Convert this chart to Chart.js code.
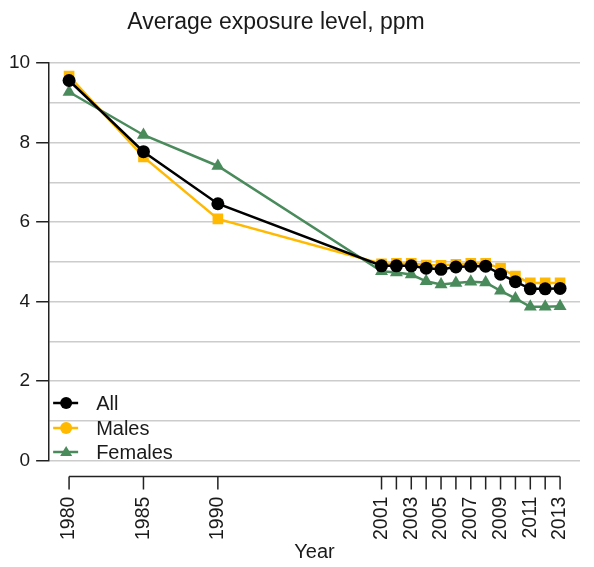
<!DOCTYPE html>
<html>
<head>
<meta charset="utf-8">
<script src="https://cdn.jsdelivr.net/npm/chart.js@4"></script>
<style>
  html, body { margin: 0; padding: 0; background: #fff; }
  #wrap { width: 594px; height: 567px; }
</style>
</head>
<body>
<div id="wrap"><canvas id="chart" width="594" height="567"></canvas></div>
<script>
// Years on the x axis (linear spacing, gap between 1990 and 2001)
const years = [1980, 1985, 1990, 2001, 2002, 2003, 2004, 2005, 2006, 2007, 2008, 2009, 2010, 2011, 2012, 2013];
// Years that get a printed label
const labelledYears = [1980, 1985, 1990, 2001, 2003, 2005, 2007, 2009, 2011, 2013];

// Average exposure level, ppm
const allValues     = [9.56, 7.77, 6.46, 4.90, 4.90, 4.90, 4.84, 4.81, 4.87, 4.89, 4.89, 4.69, 4.50, 4.32, 4.32, 4.33];
const malesValues   = [9.67, 7.64, 6.08, 4.95, 4.96, 4.96, 4.92, 4.91, 4.94, 4.96, 4.96, 4.84, 4.64, 4.47, 4.47, 4.47];
const femalesValues = [9.27, 8.19, 7.41, 4.76, 4.73, 4.68, 4.51, 4.43, 4.47, 4.50, 4.48, 4.27, 4.08, 3.87, 3.87, 3.88];

const seriesNames = ['All', 'Males', 'Females'];
const seriesColors = ['#000000', '#FFB900', '#4A8B5C'];

const FONT = '"Liberation Sans", Arial, sans-serif';
const TEXT = '#1a1a1a';

function toPoints(vals) {
    return vals.map((v, i) => ({ x: years[i], y: v }));
}

// Title drawn a bit left of centre, like the original
const titlePlugin = {
    id: 'titleText',
    afterDraw(chart) {
        const ctx = chart.ctx;
        ctx.save();
        ctx.font = '23px ' + FONT;
        ctx.fillStyle = TEXT;
        ctx.textAlign = 'center';
        ctx.textBaseline = 'alphabetic';
        ctx.fillText('Average exposure level, ppm', 276, 29);
        ctx.restore();
    }
};

// Detached x axis line with tick marks, only across the data range
const xAxisPlugin = {
    id: 'xAxisLine',
    afterDraw(chart) {
        const ctx = chart.ctx;
        const xs = chart.scales.x;
        const y0 = chart.chartArea.bottom + 16;
        ctx.save();
        ctx.strokeStyle = '#222';
        ctx.lineWidth = 1.5;
        ctx.beginPath();
        ctx.moveTo(xs.getPixelForValue(years[0]), y0);
        ctx.lineTo(xs.getPixelForValue(years[years.length - 1]), y0);
        years.forEach(yr => {
            const px = xs.getPixelForValue(yr);
            ctx.moveTo(px, y0);
            ctx.lineTo(px, y0 + 13);
        });
        ctx.stroke();
        ctx.restore();
    }
};

// Legend inside the plot, bottom left
const legendPlugin = {
    id: 'innerLegend',
    afterDatasetsDraw(chart) {
        const ctx = chart.ctx;
        const left = chart.chartArea.left;
        const rows = [403, 428, 452];
        ctx.save();
        chart.data.datasets.forEach((ds, i) => {
            const y = rows[i];
            const c = ds.borderColor;
            ctx.strokeStyle = c;
            ctx.fillStyle = c;
            ctx.lineWidth = 2.5;
            ctx.beginPath();
            ctx.moveTo(left + 4, y);
            ctx.lineTo(left + 29, y);
            ctx.stroke();
            const mx = left + 17;
            ctx.beginPath();
            if (ds.label === 'Females') {
                ctx.moveTo(mx, y - 6);
                ctx.lineTo(mx + 6, y + 4);
                ctx.lineTo(mx - 6, y + 4);
                ctx.closePath();
            } else {
                ctx.arc(mx, y, 6, 0, Math.PI * 2);
            }
            ctx.fill();
            ctx.font = '20px ' + FONT;
            ctx.fillStyle = TEXT;
            ctx.textAlign = 'left';
            ctx.textBaseline = 'middle';
            ctx.fillText(ds.label, left + 47, y + 1);
        });
        ctx.restore();
    }
};

new Chart(document.getElementById('chart').getContext('2d'), {
    type: 'line',
    data: {
        datasets: [
            {
                label: seriesNames[0],
                data: toPoints(allValues),
                borderColor: seriesColors[0],
                backgroundColor: seriesColors[0],
                borderWidth: 2.5,
                pointStyle: 'circle',
                pointRadius: 6.5,
                pointBorderWidth: 0,
                tension: 0
            },
            {
                label: seriesNames[1],
                data: toPoints(malesValues),
                borderColor: seriesColors[1],
                backgroundColor: seriesColors[1],
                borderWidth: 2.5,
                pointStyle: 'rect',
                pointRadius: 7.5,
                pointBorderWidth: 0,
                tension: 0
            },
            {
                label: seriesNames[2],
                data: toPoints(femalesValues),
                borderColor: seriesColors[2],
                backgroundColor: seriesColors[2],
                borderWidth: 2.5,
                pointStyle: 'triangle',
                pointRadius: 7.5,
                pointBorderWidth: 0,
                tension: 0
            }
        ]
    },
    options: {
        responsive: false,
        animation: false,
        layout: { padding: { top: 63, right: 14, left: 3, bottom: 3 } },
        plugins: {
            legend: { display: false },
            title: { display: false },
            tooltip: { enabled: false }
        },
        scales: {
            x: {
                type: 'linear',
                min: 1978.66,
                max: 2014.34,
                afterBuildTicks: axis => {
                    axis.ticks = years.map(v => ({ value: v }));
                },
                ticks: {
                    autoSkip: false,
                    minRotation: 90,
                    maxRotation: 90,
                    padding: 7,
                    color: TEXT,
                    font: { family: FONT, size: 19.5 },
                    callback: v => labelledYears.includes(v) ? String(v) : ''
                },
                grid: {
                    display: true,
                    drawOnChartArea: false,
                    drawTicks: true,
                    tickLength: 29,
                    tickColor: 'rgba(0,0,0,0)'
                },
                border: { display: false },
                title: {
                    display: true,
                    text: 'Year',
                    color: TEXT,
                    font: { family: FONT, size: 20 },
                    padding: { top: -7, bottom: 0 }
                }
            },
            y: {
                min: 0,
                max: 10,
                ticks: {
                    stepSize: 1,
                    padding: 6,
                    color: TEXT,
                    font: { family: FONT, size: 19 },
                    callback: v => v % 2 === 0 ? String(v) : ''
                },
                grid: {
                    color: '#cccccc',
                    lineWidth: 1.5,
                    tickLength: 13,
                    tickWidth: 1.5,
                    tickColor: ctx => ctx.tick && ctx.tick.value % 2 === 0 ? '#222' : 'rgba(0,0,0,0)'
                },
                border: { display: true, color: '#222', width: 1.5 }
            }
        }
    },
    plugins: [titlePlugin, xAxisPlugin, legendPlugin]
});
</script>
</body>
</html>
